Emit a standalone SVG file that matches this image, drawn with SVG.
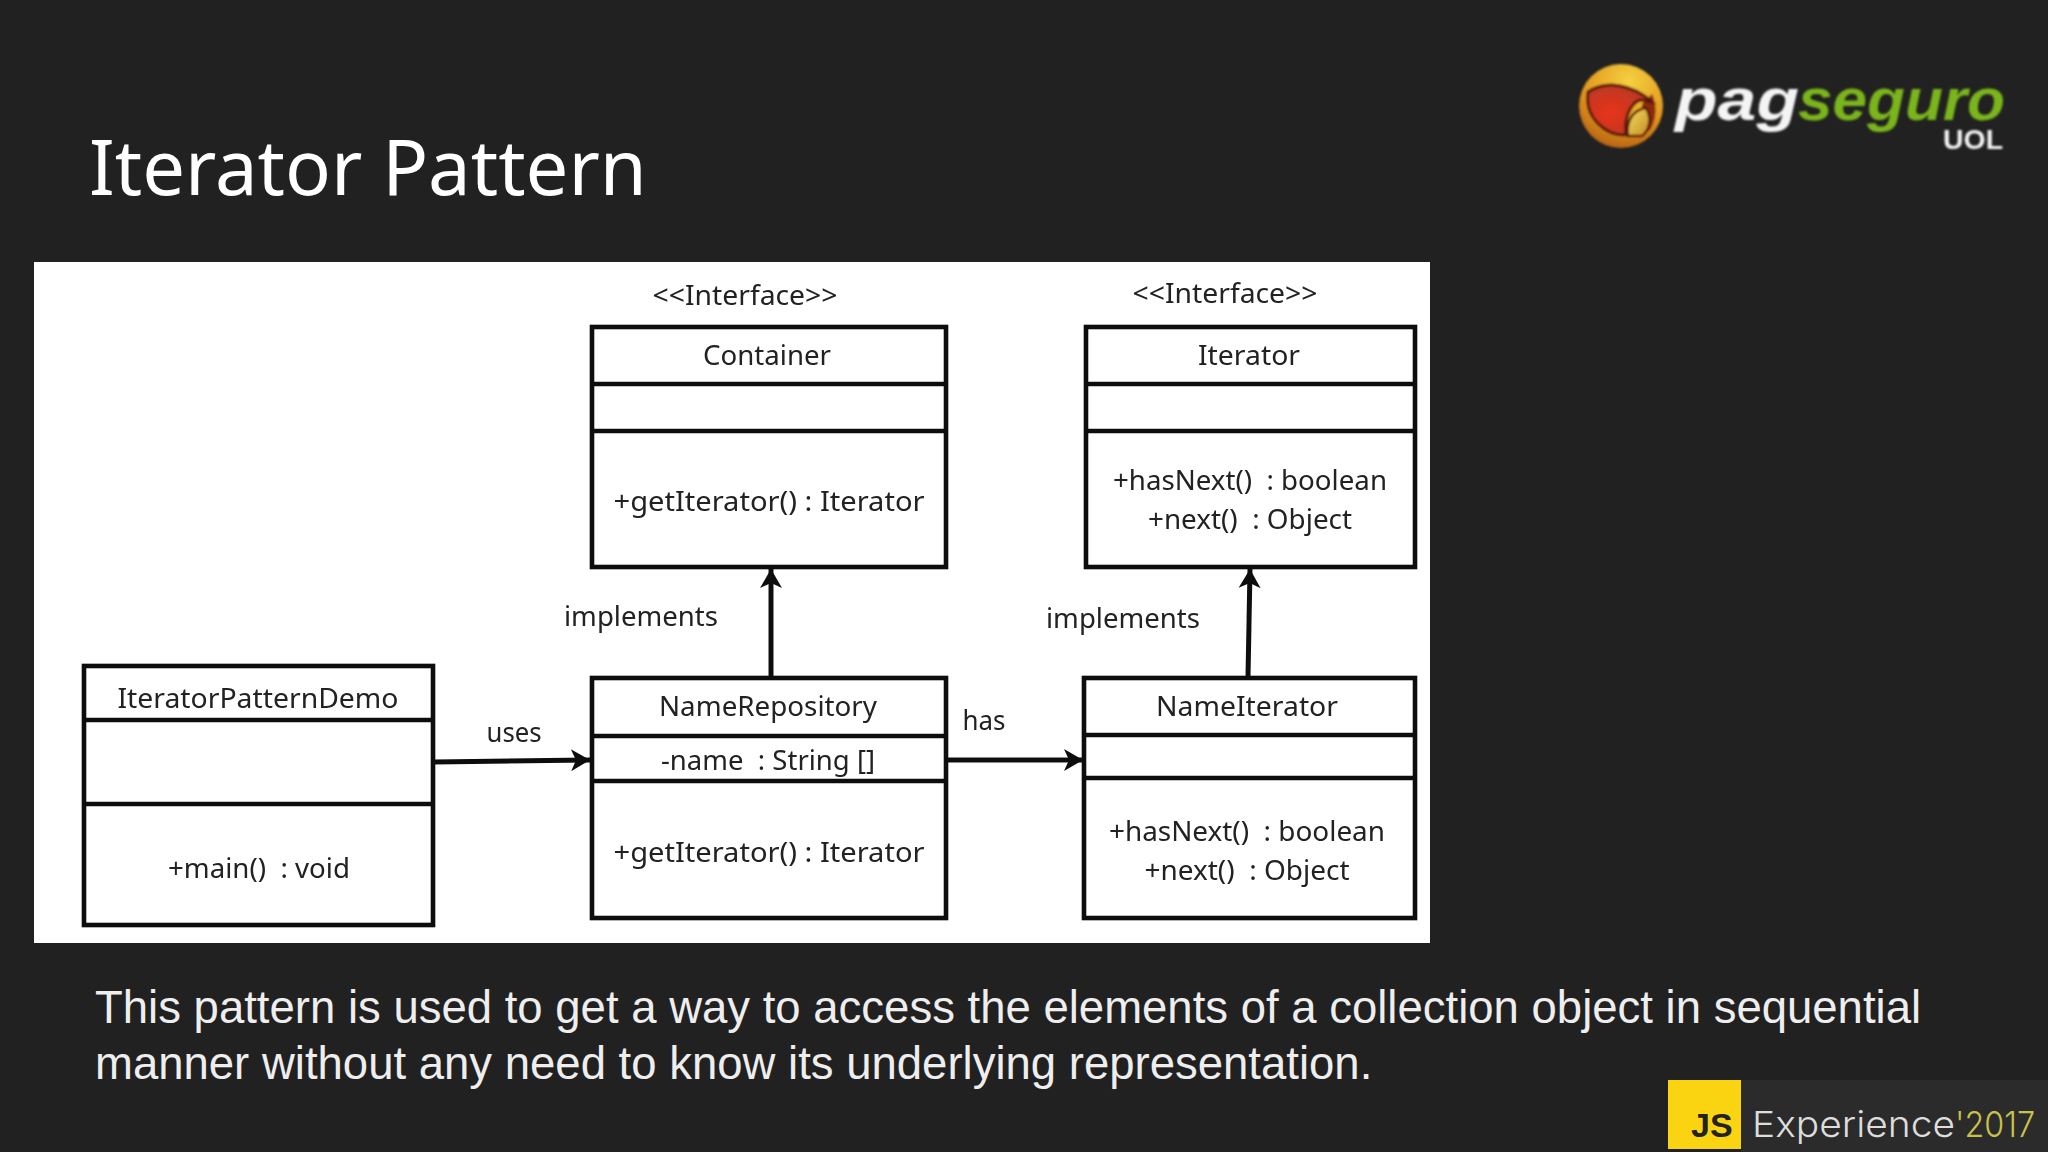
<svg xmlns="http://www.w3.org/2000/svg" width="2048" height="1152" viewBox="0 0 2048 1152">
<style>
.box{fill:#fff;stroke:#111;stroke-width:4.6}
.sep{stroke:#111;stroke-width:4.6;fill:none}
.t{font-family:"Noto Sans","DejaVu Sans",sans-serif;font-size:28px;fill:#222;text-anchor:middle}
.c{stroke:#111;stroke-width:5;fill:none;marker-end:url(#a)}
.logo{font-family:"Liberation Sans",sans-serif;font-weight:700}
</style>
<defs>
<marker id="a" viewBox="0 0 26 26" refX="23" refY="13" markerWidth="26" markerHeight="26" markerUnits="userSpaceOnUse" orient="auto"><path d="M4 2L23 13L4 24L9 13Z" fill="#111"/></marker>
<radialGradient id="ball" cx="0.6" cy="0.2" r="0.95"><stop offset="0" stop-color="#f5d040"/><stop offset="0.55" stop-color="#e39a1e"/><stop offset="1" stop-color="#a54a10"/></radialGradient>
<radialGradient id="red" cx="0.35" cy="0.55" r="0.7"><stop offset="0" stop-color="#e8331c"/><stop offset="1" stop-color="#b03a24"/></radialGradient>
<linearGradient id="lens" x1="0" y1="0" x2="1" y2="1"><stop offset="0" stop-color="#f0e060"/><stop offset="1" stop-color="#c88a20"/></linearGradient>
<filter id="b" x="-5%" y="-5%" width="110%" height="110%"><feGaussianBlur stdDeviation="0.9"/></filter>
<filter id="s" x="-2%" y="-2%" width="104%" height="104%"><feGaussianBlur stdDeviation="0.55"/></filter>
</defs>
<rect width="2048" height="1152" fill="#212121"/>
<text id="title" x="89" y="195" font-family="'Noto Sans','Open Sans',sans-serif" font-size="76" fill="#fff">Iterator Pattern</text>
<g id="logo" filter="url(#b)">
<circle cx="1621" cy="106" r="42" fill="url(#ball)"/>
<path d="M1652 94A38 38 0 0 1 1650 130L1640 135L1642 104Z" fill="#8c2a10"/>
<path d="M1588 92C1606 80 1632 84 1652 102L1640 100C1630 104 1624 118 1626 135C1606 136 1584 118 1588 92Z" fill="url(#red)" stroke="#5a1808" stroke-width="3"/>
<path d="M1628 136C1626 122 1632 110 1646 108C1652 118 1650 130 1642 136Z" fill="url(#lens)" stroke="#5a1808" stroke-width="2.5"/>
<text class="logo" x="1675" y="120" font-style="italic" font-size="60" fill="#f4f4f4" textLength="124" lengthAdjust="spacingAndGlyphs">pag</text>
<text class="logo" x="1798" y="120" font-style="italic" font-size="60" fill="#7ab51d" textLength="207" lengthAdjust="spacingAndGlyphs">seguro</text>
<text class="logo" x="1943" y="149" font-size="28" fill="#f4f4f4" textLength="60" lengthAdjust="spacingAndGlyphs">UOL</text>
</g>
<rect id="panel" x="34" y="262" width="1396" height="681" fill="#fff"/>
<g id="diagram" filter="url(#s)">
<g id="connectors">
<path id="c-uses" class="c" d="M433 762L590 760"/>
<path id="c-has" class="c" d="M946 760L1083 760"/>
<path id="c-impl1" class="c" d="M771 677V569"/>
<path id="c-impl2" class="c" d="M1248 677L1250 569"/>
</g>
<g id="IteratorPatternDemo">
<rect class="box" x="84" y="666" width="349" height="259"/>
<path class="sep" d="M84 720H433M84 804H433"/>
<text class="t" x="258" y="708" textLength="281" lengthAdjust="spacingAndGlyphs">IteratorPatternDemo</text>
<text class="t" x="259" y="878" textLength="182" lengthAdjust="spacingAndGlyphs">+main()&#160; : void</text>
</g>
<g id="Container">
<text class="t" x="745" y="305" textLength="185" lengthAdjust="spacingAndGlyphs">&lt;&lt;Interface&gt;&gt;</text>
<rect class="box" x="592" y="327" width="354" height="240"/>
<path class="sep" d="M592 384H946M592 431H946"/>
<text class="t" x="767" y="365" textLength="128" lengthAdjust="spacingAndGlyphs">Container</text>
<text class="t" x="769" y="511" textLength="311" lengthAdjust="spacingAndGlyphs">+getIterator() : Iterator</text>
</g>
<g id="Iterator">
<text class="t" x="1225" y="303" textLength="185" lengthAdjust="spacingAndGlyphs">&lt;&lt;Interface&gt;&gt;</text>
<rect class="box" x="1086" y="327" width="329" height="240"/>
<path class="sep" d="M1086 384H1415M1086 431H1415"/>
<text class="t" x="1249" y="365" textLength="102" lengthAdjust="spacingAndGlyphs">Iterator</text>
<text class="t" x="1250" y="490" textLength="274" lengthAdjust="spacingAndGlyphs">+hasNext()&#160; : boolean</text>
<text class="t" x="1250" y="529" textLength="204" lengthAdjust="spacingAndGlyphs">+next()&#160; : Object</text>
</g>
<g id="NameRepository">
<rect class="box" x="592" y="678" width="354" height="240"/>
<path class="sep" d="M592 736H946M592 781H946"/>
<text class="t" x="768" y="716" textLength="218" lengthAdjust="spacingAndGlyphs">NameRepository</text>
<text class="t" x="768" y="770" textLength="214" lengthAdjust="spacingAndGlyphs">-name&#160; : String []</text>
<text class="t" x="769" y="862" textLength="311" lengthAdjust="spacingAndGlyphs">+getIterator() : Iterator</text>
</g>
<g id="NameIterator">
<rect class="box" x="1084" y="678" width="331" height="240"/>
<path class="sep" d="M1084 735H1415M1084 778H1415"/>
<text class="t" x="1247" y="716" textLength="182" lengthAdjust="spacingAndGlyphs">NameIterator</text>
<text class="t" x="1247" y="841" textLength="276" lengthAdjust="spacingAndGlyphs">+hasNext()&#160; : boolean</text>
<text class="t" x="1247" y="880" textLength="205" lengthAdjust="spacingAndGlyphs">+next()&#160; : Object</text>
</g>
<text class="t" x="641" y="626" textLength="154" lengthAdjust="spacingAndGlyphs">implements</text>
<text class="t" x="1123" y="628" textLength="154" lengthAdjust="spacingAndGlyphs">implements</text>
<text class="t" x="514" y="742" textLength="55" lengthAdjust="spacingAndGlyphs">uses</text>
<text class="t" x="984" y="730" textLength="43" lengthAdjust="spacingAndGlyphs">has</text>
</g>
<g font-family="'Liberation Sans',Arial,sans-serif" font-size="45.5" fill="#eee">
<text id="body1" x="95" y="1023">This pattern is used to get a way to access the elements of a collection object in sequential</text>
<text id="body2" x="95" y="1079">manner without any need to know its underlying representation.</text>
</g>
<g id="badge">
<rect x="1741" y="1080" width="307" height="72" fill="#2b2b2b"/>
<rect x="1668" y="1080" width="73" height="69" fill="#fbd411"/>
<text x="1691" y="1137" font-family="'Liberation Sans',sans-serif" font-weight="700" font-size="34" fill="#222">JS</text>
<text x="1752" y="1137" font-family="Inter,Lato,sans-serif" font-weight="300" font-size="36" fill="#ddd" textLength="203" lengthAdjust="spacingAndGlyphs">Experience</text>
<text x="1955" y="1137" font-family="Inter,Lato,sans-serif" font-weight="300" font-size="36" fill="#c9c24a" textLength="80" lengthAdjust="spacingAndGlyphs">'2017</text>
</g>
</svg>
